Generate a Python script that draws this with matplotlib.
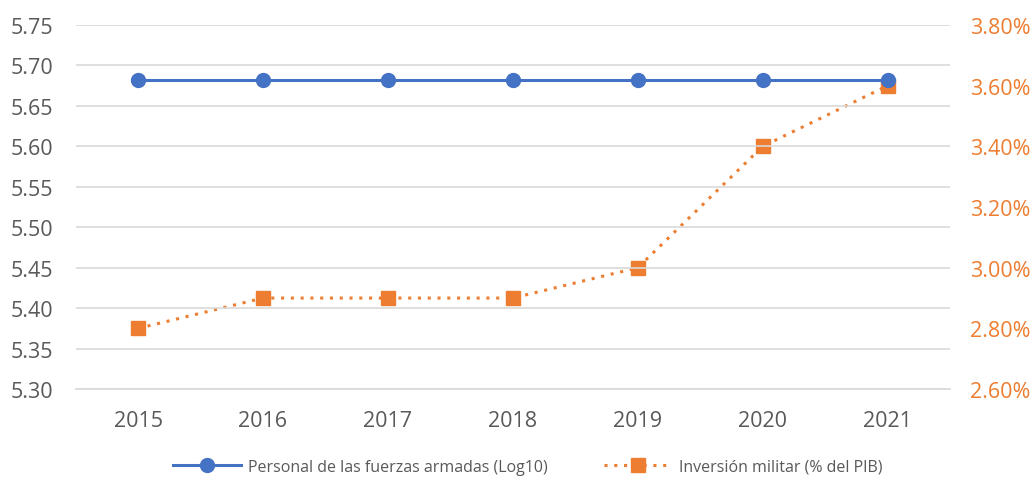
import numpy as np
import matplotlib.pyplot as plt
from matplotlib.ticker import FuncFormatter

plt.rcParams['font.family'] = ['Open Sans', 'DejaVu Sans']

# Datos
years = ["2015", "2016", "2017", "2018", "2019", "2020", "2021"]
personal_log10 = [5.682, 5.682, 5.682, 5.682, 5.682, 5.682, 5.682]
inversion_pib = [2.80, 2.90, 2.90, 2.90, 3.00, 3.40, 3.60]

azul = "#4472C4"
naranja = "#ED7D31"
gris = "#595959"

fig = plt.figure(figsize=(10.35, 4.81), dpi=100)
ax = fig.add_axes([0.073, 0.189, 0.845, 0.757])
ax2 = ax.twinx()

x = np.arange(len(years))

l1, = ax.plot(x, personal_log10, color=azul, linewidth=2.2, marker="o",
              markersize=10, label="Personal de las fuerzas armadas (Log10)")
l2, = ax2.plot(x, inversion_pib, color=naranja, linewidth=2.2, linestyle=(0, (1, 2.2)),
               marker="s", markersize=10, label="Inversión militar (% del PIB)")

ax.set_zorder(ax2.get_zorder() + 1)
ax.patch.set_visible(False)

ax.set_xlim(-0.5, len(years) - 0.5)
ax.set_ylim(5.30, 5.75)
ax.set_yticks(np.arange(5.30, 5.751, 0.05))
ax.yaxis.set_major_formatter(FuncFormatter(lambda v, p: f"{v:.2f}"))
ax2.set_ylim(2.60, 3.80)
ax2.set_yticks(np.arange(2.60, 3.801, 0.20))
ax2.yaxis.set_major_formatter(FuncFormatter(lambda v, p: f"{v:.2f}%"))

ax.set_xticks(x)
ax.set_xticklabels(years)

ax.grid(axis="y", color="#D9D9D9", linewidth=1.2)
ax.set_axisbelow(True)

for a in (ax, ax2):
    for s in a.spines.values():
        s.set_visible(False)
    a.tick_params(length=0)

ax.spines["bottom"].set_visible(True)
ax.spines["bottom"].set_color("#D9D9D9")
ax.spines["bottom"].set_linewidth(1.2)

ax.tick_params(axis="y", labelsize=15.5, labelcolor=gris, pad=16)
ax.tick_params(axis="x", labelsize=15.5, labelcolor=gris, pad=15)
ax2.tick_params(axis="y", labelsize=15.5, labelcolor=naranja, pad=14)

fig.legend(handles=[l1, l2], loc="center", bbox_to_anchor=(0.51, 1 - 468 / 481),
           ncol=2, frameon=False, fontsize=11.5, labelcolor=gris,
           handlelength=4.25, handletextpad=0.45, columnspacing=3.5)

fig.savefig("out.png", dpi=100)
